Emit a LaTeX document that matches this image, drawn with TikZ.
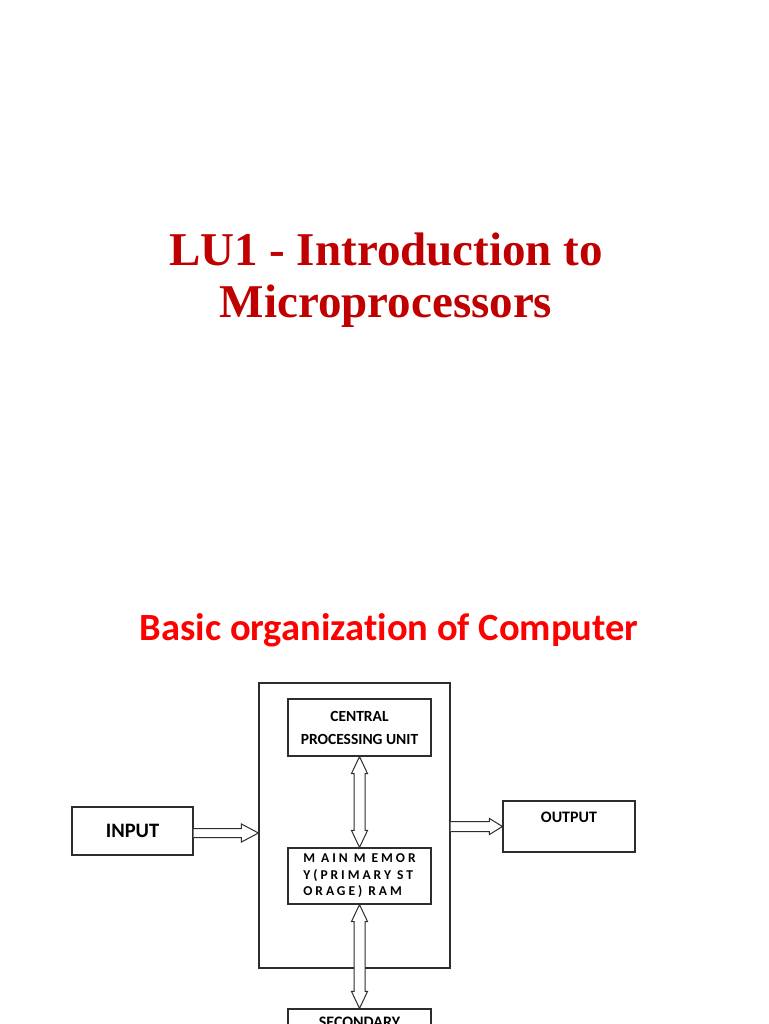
\documentclass[tikz,border=0pt]{standalone}
\usepackage{fontspec}
\setmainfont{Liberation Serif}
\newfontfamily\calib[Ligatures=NoCommon]{Carlito}
\usetikzlibrary{calc}
\definecolor{titlered}{RGB}{192,0,0}
\definecolor{subred}{RGB}{255,0,0}
\definecolor{edge}{RGB}{45,45,45}
\begin{document}
\begin{tikzpicture}[x=1pt,y=-1pt,
  box/.style={draw=edge, line width=1.1pt, inner sep=0pt, align=center,
    font=\calib\bfseries\fontsize{15.5}{23}\selectfont},
  lbl/.style={inner sep=0pt, font=\calib\bfseries\fontsize{16}{23}\selectfont},
  blk/.style={draw=edge, line width=1pt, fill=white, line join=miter}]
\fill[white] (0,0) rectangle (768,1024);
\useasboundingbox (0,0) rectangle (768,1024);
\clip (0,0) rectangle (768,1024);

% titles
\node[inner sep=0pt, anchor=base, text=titlered, font=\bfseries\fontsize{47}{52}\selectfont] (t1) at (386,265) {LU1 - Introduction to};
\node[inner sep=0pt, anchor=base, text=titlered, font=\bfseries\fontsize{47}{52}\selectfont] (t2) at (386,317) {Microprocessors};
\node[inner sep=0pt, anchor=base, text=subred, font=\calib\bfseries\fontsize{38.5}{42}\selectfont] (sub) at (389,640) {Basic organization of Computer};

% boxes
\node[box, minimum width=191, minimum height=285] (sys) at (354.5,825.5) {};
\node[box, minimum width=143, minimum height=57] (cpu) at (359.5,727.5) {CENTRAL\\PROCESSING UNIT};
\node[box, minimum width=143, minimum height=56, align=left,
      font=\calib\bfseries\fontsize{13.5}{16.5}\selectfont\addfontfeature{LetterSpace=22}] (mm) at (359.5,876) {M AIN M EMOR\\Y(PRIMARY ST\\ORAGE) RAM};
\node[box, minimum width=121, minimum height=48, font=\calib\bfseries\fontsize{20.5}{24}\selectfont] (in) at (132.5,831) {INPUT};
\node[box, minimum width=132, minimum height=51] (out) at (569,826.5) {};
\node[lbl, anchor=base] (outtxt) at ($(out.north)+(0,22)$) {OUTPUT};
\node[box, minimum width=143, minimum height=60] (sec) at (359.5,1039) {};
\node[lbl, anchor=base] (sectxt) at ($(sec.north)+(0,19)$) {SECONDARY};

% hollow block arrows
\coordinate (a1) at ($(in.east)+(0,2)$);
\coordinate (a2) at ($(sys.west |- in.east)+(0,2)$);
\draw[blk] (a1) ++(0,-4.5) -- ($(a2)+(-17,-4.5)$) -- ($(a2)+(-17,-9)$) -- (a2)
  -- ($(a2)+(-17,9)$) -- ($(a2)+(-17,4.5)$) -- ($(a1)+(0,4.5)$);

\coordinate (b1) at (sys.east |- out.west);
\coordinate (b2) at (out.west);
\draw[blk] (b1) ++(0,-5) -- ($(b2)+(-13,-5)$) -- ($(b2)+(-13,-8)$) -- (b2)
  -- ($(b2)+(-13,8)$) -- ($(b2)+(-13,5)$) -- ($(b1)+(0,5)$);

\draw[blk] (cpu.south) -- ($(cpu.south)+(8,17)$) -- ($(cpu.south)+(5.5,17)$)
  -- ($(mm.north)+(5.5,-17)$) -- ($(mm.north)+(8,-17)$) -- (mm.north)
  -- ($(mm.north)+(-8,-17)$) -- ($(mm.north)+(-5.5,-17)$)
  -- ($(cpu.south)+(-5.5,17)$) -- ($(cpu.south)+(-8,17)$) -- cycle;

\draw[blk] (mm.south) -- ($(mm.south)+(8,17)$) -- ($(mm.south)+(5.5,17)$)
  -- ($(sec.north)+(5.5,-17)$) -- ($(sec.north)+(8,-17)$) -- (sec.north)
  -- ($(sec.north)+(-8,-17)$) -- ($(sec.north)+(-5.5,-17)$)
  -- ($(mm.south)+(-5.5,17)$) -- ($(mm.south)+(-8,17)$) -- cycle;
\end{tikzpicture}
\end{document}
